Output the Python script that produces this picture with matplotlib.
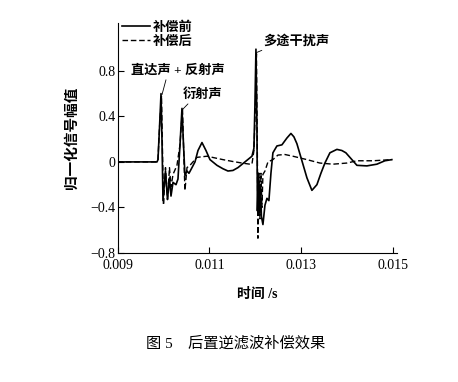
import matplotlib
matplotlib.use("Agg")
import matplotlib.pyplot as plt
from matplotlib.ticker import FuncFormatter

plt.rcParams['font.family'] = ['Liberation Serif', 'Noto Sans CJK SC']
plt.rcParams['axes.unicode_minus'] = True

# signal before compensation (time in s, normalised amplitude)
t_before = [0.009, 0.009859, 0.009880, 0.009913, 0.009946, 0.009967, 0.009989,
            0.010043, 0.010087, 0.010130, 0.010163, 0.010207, 0.010272, 0.010315,
            0.010359, 0.010402, 0.010435, 0.010467, 0.010511, 0.010554, 0.010620,
            0.010685, 0.010750, 0.010837, 0.010924, 0.011011, 0.011163, 0.011293,
            0.011402, 0.011511, 0.011620, 0.011772, 0.011924, 0.011967, 0.011989,
            0.012011, 0.012033, 0.012043, 0.012065, 0.012087, 0.012109, 0.012130,
            0.012163, 0.012207, 0.012250, 0.012293, 0.012337, 0.012380, 0.012467,
            0.012576, 0.012685, 0.012772, 0.012837, 0.012902, 0.013011, 0.013120,
            0.013228, 0.013337, 0.013424, 0.013511, 0.013620, 0.013772, 0.013880,
            0.013967, 0.014098, 0.014207, 0.014424, 0.014641, 0.014815, 0.014967]
y_before = [0, 0, 0.02, 0.30, 0.60, 0.20, -0.34,
            -0.08, -0.33, -0.14, -0.30, -0.18, -0.20, -0.15,
            0.15, 0.47, 0.15, -0.12, -0.08, -0.10, -0.05,
            0.0, 0.10, 0.17, 0.10, 0.02, -0.03, -0.06,
            -0.08, -0.075, -0.05, 0.0, 0.05, 0.12, 0.50,
            0.99, 0.30, -0.43, -0.10, -0.45, -0.20, -0.48,
            -0.55, -0.38, -0.32, -0.34, -0.10, 0.08, 0.14,
            0.15, 0.21, 0.25, 0.22, 0.16, 0.01, -0.14,
            -0.25, -0.20, -0.10, -0.01, 0.08, 0.11, 0.10,
            0.08, 0.02, -0.03, -0.035, -0.02, 0.01, 0.02]

# signal after compensation
t_after = [0.009, 0.009859, 0.009880, 0.009913, 0.009957, 0.009978, 0.010000,
           0.010043, 0.010087, 0.010130, 0.010163, 0.010207, 0.010293, 0.010359,
           0.010413, 0.010446, 0.010467, 0.010511, 0.010576, 0.010641, 0.010728,
           0.010946, 0.011120, 0.011293, 0.011489, 0.011707, 0.011880, 0.011924,
           0.011967, 0.012000, 0.012022, 0.012043, 0.012054, 0.012076, 0.012098,
           0.012120, 0.012141, 0.012163, 0.012207, 0.012272, 0.012380, 0.012489,
           0.012641, 0.012815, 0.012967, 0.013120, 0.013402, 0.013685, 0.013989,
           0.014207, 0.014554, 0.014967]
y_after = [0, 0, 0.02, 0.30, 0.58, 0.10, -0.38,
           -0.05, -0.33, -0.05, -0.22, -0.11, -0.03, 0.15,
           0.47, 0.0, -0.25, -0.05, -0.03, 0.0, 0.04,
           0.05, 0.035, 0.02, 0.005, -0.01, -0.02, -0.02,
           0.10, 0.50, 0.95, 0.0, -0.67, -0.10, -0.50,
           -0.10, -0.40, -0.11, -0.08, 0.0, 0.02, 0.06,
           0.065, 0.05, 0.035, 0.02, -0.01, -0.02, -0.01,
           0.01, 0.01, 0.02]

x_ticks = [0.009, 0.011, 0.013, 0.015]
y_ticks = [-0.8, -0.4, 0, 0.4, 0.8]

fig = plt.figure(figsize=(4.58, 3.82), dpi=100)
ax = fig.add_axes([0.2566, 0.3377, 0.6103, 0.6021])

ax.plot(t_before, y_before, color='black', lw=1.2, label='补偿前')
ax.plot(t_after, y_after, color='black', lw=1.0, ls=(0, (4, 2)), label='补偿后')

ax.set_xlim(0.009, 0.01508)
ax.set_ylim(-0.8, 1.22)
ax.set_xticks(x_ticks)
ax.set_yticks(y_ticks)
fmt = FuncFormatter(lambda v, p: ('%g' % v).replace('-', '\u2212'))
ax.xaxis.set_major_formatter(fmt)
ax.yaxis.set_major_formatter(fmt)
ax.tick_params(direction='in', length=4, width=0.8, labelsize=10)
ax.tick_params(axis='x', pad=4)
ax.tick_params(axis='y', pad=1.5)
for side in ['top', 'right']:
    ax.spines[side].set_visible(False)
for side in ['left', 'bottom']:
    ax.spines[side].set_linewidth(0.8)

ax.set_xlabel('时间 /s', fontsize=10, fontweight='bold', labelpad=12)
ax.set_ylabel('归一化信号幅值', fontsize=10.5, fontweight='bold', labelpad=8)

ann = dict(arrowstyle='-', lw=0.6, color='black', shrinkA=0, shrinkB=0)
ax.annotate('直达声 + 反射声', xy=(0.009967, 0.59), xytext=(0.010315, 0.80),
            ha='center', va='center', fontsize=9.5, fontweight='bold',
            arrowprops=dict(ann, relpos=(0.38, 0)))
ax.annotate('衍射声', xy=(0.010413, 0.46), xytext=(0.010859, 0.59),
            ha='center', va='center', fontsize=9.5, fontweight='bold',
            arrowprops=dict(ann, relpos=(0.19, 0)))
ax.annotate('多途干扰声', xy=(0.012022, 0.96), xytext=(0.012902, 1.06),
            ha='center', va='center', fontsize=9.5, fontweight='bold',
            arrowprops=dict(ann, relpos=(0.07, 0)))

ax.legend(loc='upper left', bbox_to_anchor=(0.016, 1.007), frameon=False,
          borderpad=0, borderaxespad=0, handlelength=2.1, handletextpad=0.25,
          labelspacing=0.14, prop={'size': 9.5, 'weight': 'bold'})

fig.text(0.515, 0.102, '图 5\u3000后置逆滤波补偿效果', ha='center', va='center', fontsize=11)

fig.savefig('out.png', dpi=100)
